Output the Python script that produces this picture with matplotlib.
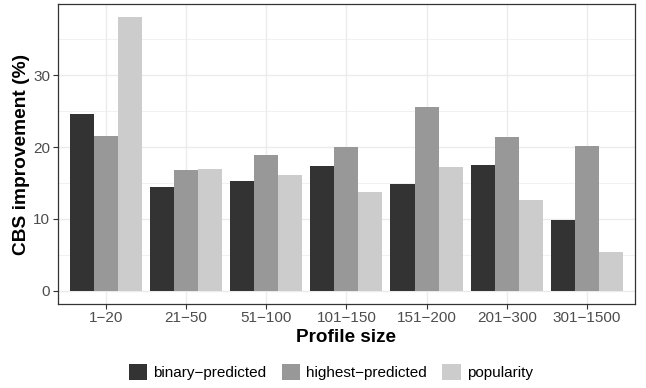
import matplotlib
matplotlib.use("Agg")
import matplotlib.pyplot as plt
from matplotlib.patches import Patch
from matplotlib.ticker import FixedLocator
import numpy as np

# data
sizes = ["1\u221220", "21\u221250", "51\u2212100", "101\u2212150",
         "151\u2212200", "201\u2212300", "301\u22121500"]
binary_predicted = [24.6, 14.5, 15.3, 17.4, 14.9, 17.5, 9.9]
highest_predicted = [21.6, 16.8, 18.9, 20.0, 25.6, 21.4, 20.2]
popularity = [38.1, 17.0, 16.1, 13.8, 17.2, 12.7, 5.4]

series = ["binary\u2212predicted", "highest\u2212predicted", "popularity"]
colors = ["#333333", "#989898", "#cccccc"]

plt.rcParams['font.family'] = ['Liberation Sans', 'DejaVu Sans']

fig = plt.figure(figsize=(6.46, 3.88), dpi=100)
ax = fig.add_axes([0.0893, 0.2157, 0.8937, 0.7733])

x = np.arange(1, len(sizes) + 1)
w = 0.3
for i, vals in enumerate([binary_predicted, highest_predicted, popularity]):
    ax.bar(x + (i - 1) * w, vals, width=w, color=colors[i], zorder=3)

ax.set_xlim(0.4, 7.6)
ax.set_ylim(-1.9, 39.9)
ax.yaxis.set_major_locator(FixedLocator([0, 10, 20, 30]))
ax.yaxis.set_minor_locator(FixedLocator([5, 15, 25, 35]))
ax.set_xticks(x)
ax.set_xticklabels(sizes)

ax.grid(which='major', color='#ebebeb', linewidth=1.0, zorder=0)
ax.grid(which='minor', axis='y', color='#ebebeb', linewidth=0.5, zorder=0)
ax.tick_params(which='minor', length=0)
ax.tick_params(which='major', length=3.5, width=0.8, color='#333333',
               labelsize=11, labelcolor='#4d4d4d', pad=2)
ax.tick_params(axis='x', pad=1)
for s in ax.spines.values():
    s.set_color('#333333')
    s.set_linewidth(0.9)

ax.set_xlabel("Profile size", fontsize=13.6, fontweight='bold', labelpad=3)
ax.set_ylabel("CBS improvement (%)", fontsize=13.8, fontweight='bold', labelpad=2)

handles = [Patch(facecolor=c, edgecolor='none') for c in colors]
fig.legend(handles, series, loc='lower center', ncol=3, frameon=False,
           fontsize=11, bbox_to_anchor=(0.512, -0.015), handlelength=1.2,
           handleheight=1.2, handletextpad=0.4, columnspacing=1.0)

fig.savefig("out.png", dpi=100)
